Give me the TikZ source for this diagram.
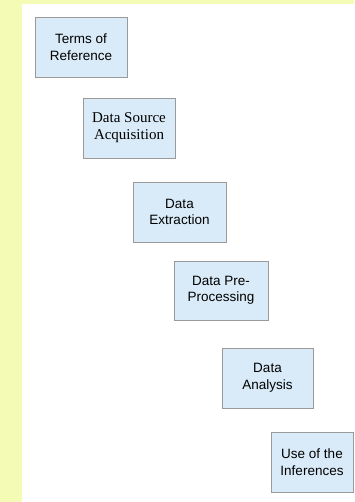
\documentclass[tikz,border=0pt]{standalone}
\usepackage{fontspec}
\setmainfont{Liberation Sans}
\newfontfamily\serifbox{Liberation Serif}
\definecolor{bgyellow}{HTML}{F3FBB5}
\definecolor{boxfill}{HTML}{D9EBF8}
\definecolor{boxline}{HTML}{9A9A9A}
\begin{document}
\begin{tikzpicture}[x=1pt,y=-1pt,
  stagebox/.style={draw=boxline, fill=boxfill, line width=0.9pt, inner sep=0pt,
    align=center, font=\fontsize{13.5}{16.5}\selectfont},
  serifstage/.style={stagebox, font=\serifbox\fontsize{15}{17}\selectfont}]
\useasboundingbox (0,0) rectangle (354,502);
\fill[bgyellow] (0,0) rectangle (354,502);
\fill[white] (22,4) rectangle (354,502);
\node[stagebox, minimum width=92pt, minimum height=60pt] (tor) at (81,47) {Terms of\\Reference};
\node[serifstage, minimum width=92pt, minimum height=60pt] (dsa) at (129,128) {Data Source\\Acquisition};
\node[stagebox, minimum width=93pt, minimum height=60pt] (dex) at (179.5,212) {Data\\Extraction};
\node[stagebox, minimum width=94pt, minimum height=59pt] (dpp) at (221,290.5) {Data Pre-\\Processing};
\node[stagebox, minimum width=91pt, minimum height=60pt] (dan) at (267.5,378) {Data\\Analysis};
\node[stagebox, minimum width=82pt, minimum height=60pt] (uoi) at (312,462) {Use of the\\Inferences};
\end{tikzpicture}
\end{document}
